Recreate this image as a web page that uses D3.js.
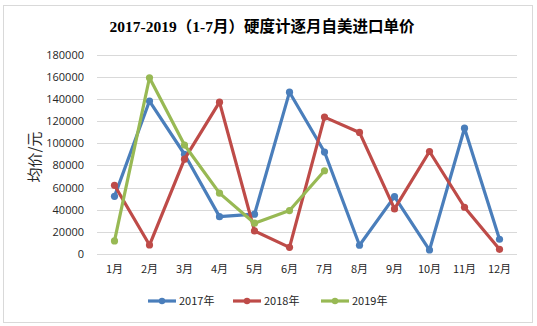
<!DOCTYPE html>
<html><head><meta charset="utf-8">
<script src="https://cdn.jsdelivr.net/npm/d3@7"></script>
<style>body{margin:0;background:#fff}svg{display:block}</style>
</head><body><svg id="c" width="537" height="326"></svg>
<script>
const months = ["1月","2月","3月","4月","5月","6月","7月","8月","9月","10月","11月","12月"];
const yTicks = [0,20000,40000,60000,80000,100000,120000,140000,160000,180000];
const s2017 = [52000,138000,90000,33700,35900,146000,92000,7900,51800,3600,113500,13300];
const s2018 = [62000,8100,85600,137000,20800,6000,123500,109700,40700,92500,42200,4200];
const s2019 = [11800,159000,98300,54900,27800,39200,75100];
const seriesNames = ["2017年","2018年","2019年"];
const colors = ["#4a7ebb","#be4b48","#98b954"];

const svg = d3.select("#c");
const W=537,H=326;
svg.append("rect").attr("x",3.5).attr("y",5.5).attr("width",529).attr("height",317)
  .attr("fill","#fff").attr("stroke","#d9d9d9").attr("stroke-width",1);

svg.append("text").attr("x",262).attr("y",32).attr("text-anchor","middle")
  .attr("font-family","'Liberation Serif','Noto Sans CJK SC',serif").attr("font-weight","bold")
  .attr("font-size",15.5).attr("fill","#000").text("2017-2019（1-7月）硬度计逐月自美进口单价");

const x = d3.scaleBand().domain(months).range([97,517]);
const y = d3.scaleLinear().domain([0,180000]).range([254,54.5]);

const g = svg.append("g");
g.selectAll("line.grid").data(yTicks).join("line")
  .attr("x1",97).attr("x2",517).attr("y1",d=>Math.round(y(d))+0.5).attr("y2",d=>Math.round(y(d))+0.5)
  .attr("stroke","#d9d9d9").attr("stroke-width",1);

const yAxis = svg.append("g").attr("transform","translate(97,0)")
  .call(d3.axisLeft(y).tickValues(yTicks).tickSize(0).tickPadding(13).tickFormat(d3.format("d")));
yAxis.select(".domain").remove();
yAxis.selectAll("text").attr("font-family","'Open Sans','DejaVu Sans',sans-serif").attr("font-size",11).attr("fill","#262626");

const xAxis = svg.append("g").attr("transform","translate(0,254)")
  .call(d3.axisBottom(x).tickSize(0).tickPadding(11));
xAxis.select(".domain").remove();
xAxis.selectAll("text").attr("font-family","'Noto Sans CJK SC',sans-serif").attr("font-size",11).attr("fill","#262626");

svg.append("text").attr("transform","translate(40,157) rotate(-90)").attr("text-anchor","middle")
  .attr("font-family","'Noto Sans CJK SC',sans-serif").attr("font-size",15).attr("fill","#262626").text("均价/元");

const all=[s2017,s2018,s2019];
const line = d3.line().x((d,i)=>x(months[i])+x.bandwidth()/2).y(d=>y(d));
all.forEach((s,k)=>{
  svg.append("path").attr("d",line(s)).attr("fill","none").attr("stroke",colors[k])
    .attr("stroke-width",3.2).attr("stroke-linejoin","round");
  svg.selectAll(null).data(s).join("circle")
    .attr("cx",(d,i)=>x(months[i])+x.bandwidth()/2).attr("cy",d=>y(d)).attr("r",3.6).attr("fill",colors[k]);
});

const legX=[148,233,321];
seriesNames.forEach((n,k)=>{
  const lg=svg.append("g");
  lg.append("line").attr("x1",legX[k]).attr("x2",legX[k]+28).attr("y1",301).attr("y2",301)
    .attr("stroke",colors[k]).attr("stroke-width",3.2);
  lg.append("circle").attr("cx",legX[k]+14).attr("cy",301).attr("r",3.2).attr("fill",colors[k]);
  lg.append("text").attr("x",legX[k]+31).attr("y",305).attr("font-family","'Noto Sans CJK SC',sans-serif")
    .attr("font-size",11).attr("fill","#262626").text(n);
});
</script></body></html>
